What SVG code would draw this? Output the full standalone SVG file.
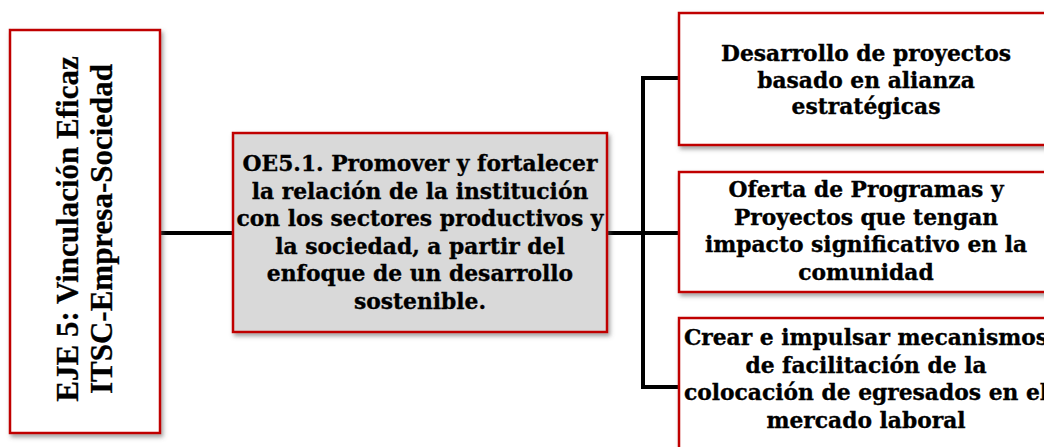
<svg xmlns="http://www.w3.org/2000/svg" width="1044" height="447" viewBox="0 0 1044 447">
<defs>
<filter id="sh" x="-10%" y="-10%" width="130%" height="130%">
<feDropShadow dx="2" dy="3" stdDeviation="2" flood-color="#555" flood-opacity="0.55"/>
</filter>
<style>
.box{fill:#fff;stroke:#c00000;stroke-width:2.5;filter:url(#sh)}
.gray{fill:#d9d9d9}
.t{font-family:"DejaVu Serif","Liberation Serif",serif;font-weight:bold;font-size:21.8px;fill:#000;stroke:#000;stroke-width:0.35;text-anchor:middle}
.tl{font-family:"Liberation Serif",serif;font-weight:bold;font-size:31px;fill:#000;stroke:#000;stroke-width:0.3;text-anchor:middle}
.c{stroke:#000;stroke-width:4;fill:none}
</style>
</defs>
<g id="connectors">
<line class="c" x1="160" y1="233" x2="233" y2="233"/>
<line class="c" x1="607" y1="233" x2="679" y2="233"/>
<polyline class="c" points="679,78 643,78 643,387 679,387"/>
</g>
<g id="eje5">
<rect class="box" x="10" y="30" width="150" height="403"/>
<g transform="translate(0,229) rotate(-90)">
<text class="tl" x="0" y="78">EJE 5: Vinculación Eficaz</text>
<text class="tl" x="0" y="112">ITSC-Empresa-Sociedad</text>
</g>
</g>
<g id="oe51">
<rect class="box gray" x="233" y="133" width="374" height="199"/>
<text class="t" x="420" y="171">OE5.1. Promover y fortalecer</text>
<text class="t" x="420" y="198.5">la relación de la institución</text>
<text class="t" x="420" y="226">con los sectores productivos y</text>
<text class="t" x="420" y="253.5">la sociedad, a partir del</text>
<text class="t" x="420" y="281">enfoque de un desarrollo</text>
<text class="t" x="420" y="308.5">sostenible.</text>
</g>
<g id="r1">
<rect class="box" x="679" y="13" width="374" height="132"/>
<text class="t" x="866" y="61">Desarrollo de proyectos</text>
<text class="t" x="866" y="87.5">basado en alianza</text>
<text class="t" x="866" y="114">estratégicas</text>
</g>
<g id="r2">
<rect class="box" x="679" y="172" width="374" height="120"/>
<text class="t" x="866" y="197">Oferta de Programas y</text>
<text class="t" x="866" y="224.5">Proyectos que tengan</text>
<text class="t" x="866" y="252">impacto significativo en la</text>
<text class="t" x="866" y="279.5">comunidad</text>
</g>
<g id="r3">
<rect class="box" x="679" y="318" width="374" height="135"/>
<text class="t" x="866" y="345">Crear e impulsar mecanismos</text>
<text class="t" x="866" y="372.5">de facilitación de la</text>
<text class="t" x="866" y="400">colocación de egresados en el</text>
<text class="t" x="866" y="427.5">mercado laboral</text>
</g>
</svg>
